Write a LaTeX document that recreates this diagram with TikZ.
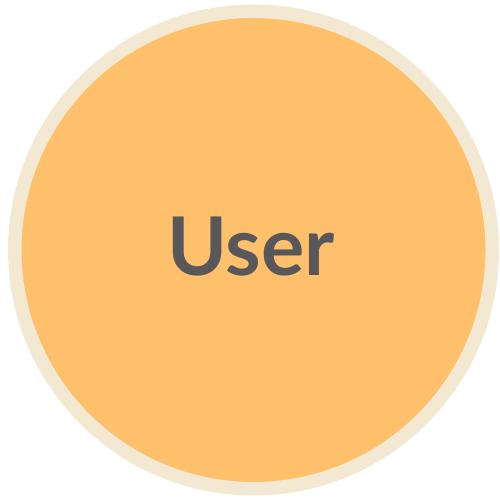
\documentclass[tikz,border=0pt]{standalone}
\usepackage{fontspec}
\setmainfont{Lato}
\definecolor{fillor}{HTML}{FFC06B}
\definecolor{ringc}{HTML}{F3E9D2}
\definecolor{txtc}{HTML}{58585B}
\begin{document}
\begin{tikzpicture}[x=1pt,y=1pt,
  usercircle/.style={circle,draw=ringc,fill=fillor,line width=13.5pt,minimum size=477.5pt,inner sep=0pt},
  usertext/.style={text=txtc,font=\fontsize{81}{90}\selectfont\bfseries,inner sep=0pt}]
\useasboundingbox (0,0) rectangle (500,500);
\node[usercircle] (c) at (253.5,250) {};
\node[usertext,anchor=base] (t) at (251,224) {User};
\end{tikzpicture}
\end{document}
